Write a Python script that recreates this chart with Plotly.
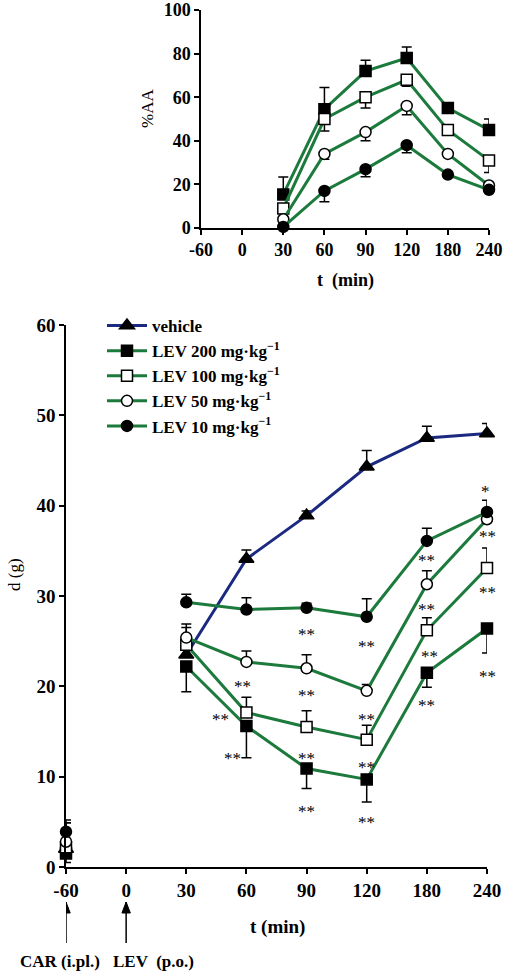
import plotly.graph_objects as go

# ---------------- data ----------------
times = ["-60", "0", "30", "60", "90", "120", "180", "240"]

# top panel: % anti-allodynic activity (%AA)
aa_lev200 = [None, None, 15.4, 54.5, 72.0, 78.0, 55.0, 45.0]
aa_lev200_err = [0, 0, 8.0, 10.0, 5.0, 5.0, 2.0, 5.0]          # upward
aa_lev100 = [None, None, 9.0, 50.0, 60.0, 68.0, 45.0, 31.0]
aa_lev100_err = [0, 0, 1.0, 5.5, 5.0, 3.0, 2.0, 5.5]           # downward
aa_lev50 = [None, None, 4.0, 34.0, 44.0, 56.0, 34.0, 19.5]
aa_lev50_err = [0, 0, 1.0, 2.5, 4.0, 4.0, 1.0, 1.0]            # downward
aa_lev10 = [None, None, 0.5, 17.0, 27.0, 38.0, 24.5, 17.5]
aa_lev10_err = [0, 0, 0.5, 5.0, 3.5, 3.5, 1.0, 1.0]            # downward

# bottom panel: paw withdrawal threshold d (g)
d_vehicle = [2.0, None, 23.5, 34.1, 38.9, 44.3, 47.5, 48.0]
d_vehicle_err = [1.0, 0, 0.6, 1.0, 0.5, 1.8, 1.3, 1.1]         # upward
d_lev200 = [1.5, None, 22.2, 15.6, 10.9, 9.7, 21.5, 26.4]
d_lev200_err = [1.0, 0, 2.8, 3.5, 2.2, 2.5, 1.6, 2.7]          # downward
d_lev100 = [2.2, None, 24.6, 17.1, 15.5, 14.1, 26.2, 33.1]
d_lev100_err = [2.7, 0, 2.3, 1.7, 1.8, 1.6, 1.4, 2.2]          # upward
d_lev50 = [2.8, None, 25.4, 22.7, 22.0, 19.5, 31.3, 38.5]
d_lev50_err = [2.1, 0, 1.1, 1.2, 1.5, 0.7, 1.5, 0.5]           # upward
d_lev10 = [3.9, None, 29.3, 28.5, 28.7, 27.7, 36.1, 39.3]
d_lev10_err = [1.3, 0, 0.9, 1.3, 0.5, 2.0, 1.4, 1.3]           # upward

legend_names = ["vehicle", "LEV 200 mg·kg<sup>−1</sup>", "LEV 100 mg·kg<sup>−1</sup>",
                "LEV 50 mg·kg<sup>−1</sup>", "LEV 10 mg·kg<sup>−1</sup>"]

# significance marks: (x position as category index, y value, label)
sig_marks = [
    (4.0, 26.2, "**"), (5.0, 24.8, "**"), (6.0, 34.4, "**"), (6.97, 42.0, "*"),
    (2.93, 20.4, "**"), (4.0, 19.4, "**"), (5.0, 16.8, "**"), (6.0, 28.9, "**"), (7.0, 37.0, "**"),
    (2.57, 16.8, "**"), (4.0, 12.5, "**"), (5.0, 11.5, "**"), (6.05, 23.8, "**"), (7.0, 30.8, "**"),
    (2.77, 12.5, "**"), (4.0, 6.6, "**"), (5.0, 5.4, "**"), (6.0, 18.3, "**"), (7.0, 21.5, "**"),
]

# ---------------- styling ----------------
W, H = 505, 974
GREEN = "#1c7a3c"
NAVY = "#1b2a80"
FONT = "Liberation Serif"


def px_x(p):
    return p / W


def px_y(p):
    return 1 - p / H


def err(arr, up=True):
    zeros = [0] * len(arr)
    if up:
        return dict(type="data", symmetric=False, array=arr, arrayminus=zeros,
                    color="black", thickness=1.5, width=5)
    return dict(type="data", symmetric=False, array=zeros, arrayminus=arr,
                color="black", thickness=1.5, width=5)


def mk(symbol, filled):
    return dict(symbol=symbol, size=11 if symbol != "triangle-up" else 13,
                color="black" if filled else "white",
                line=dict(color="black", width=1.5))


fig = go.Figure()

# top panel traces
top = [
    (aa_lev200, aa_lev200_err, True, "square", True),
    (aa_lev100, aa_lev100_err, False, "square", False),
    (aa_lev50, aa_lev50_err, False, "circle", False),
    (aa_lev10, aa_lev10_err, False, "circle", True),
]
for y, e, up, sym, filled in top:
    fig.add_trace(go.Scatter(x=times, y=y, mode="lines+markers", xaxis="x", yaxis="y",
                             line=dict(color=GREEN, width=3), marker=mk(sym, filled),
                             error_y=err(e, up), showlegend=False, cliponaxis=False,
                             connectgaps=False))

# bottom panel traces
bottom = [
    (d_vehicle, d_vehicle_err, True, "triangle-up", True, NAVY),
    (d_lev200, d_lev200_err, False, "square", True, GREEN),
    (d_lev100, d_lev100_err, True, "square", False, GREEN),
    (d_lev50, d_lev50_err, True, "circle", False, GREEN),
    (d_lev10, d_lev10_err, True, "circle", True, GREEN),
]
for (y, e, up, sym, filled, col), name in zip(bottom, legend_names):
    fig.add_trace(go.Scatter(x=times, y=y, mode="lines+markers", xaxis="x2", yaxis="y2",
                             name=name, line=dict(color=col, width=3),
                             marker=mk(sym, filled), error_y=err(e, up),
                             cliponaxis=False, connectgaps=False))


def axis_style(size):
    return dict(showline=True, linecolor="black", linewidth=1.5, ticks="outside",
                ticklen=5, tickwidth=1.5, tickcolor="black", showgrid=False,
                zeroline=False, automargin=False, ticklabeloverflow="allow",
                tickfont=dict(family=FONT, size=size, color="black", weight="bold"))


fig.update_layout(
    template="none",
    width=W, height=H, margin=dict(l=0, r=0, t=0, b=0, pad=0),
    paper_bgcolor="white", plot_bgcolor="white",
    xaxis=dict(domain=[px_x(201), px_x(489)], anchor="y", type="category",
               range=[0, 7], categoryorder="array", categoryarray=times, **axis_style(18)),
    yaxis=dict(domain=[px_y(228), px_y(10)], anchor="x", range=[0, 100], dtick=20,
               **axis_style(18)),
    xaxis2=dict(domain=[px_x(66), px_x(487)], anchor="y2", type="category",
                range=[0, 7], categoryorder="array", categoryarray=times, **axis_style(19)),
    yaxis2=dict(domain=[px_y(867), px_y(325)], anchor="x2", range=[0, 60], dtick=10,
                **axis_style(19)),
    legend=dict(x=px_x(102), y=px_y(308), xanchor="left", yanchor="top",
                bgcolor="rgba(0,0,0,0)", tracegroupgap=0, itemwidth=40,
                font=dict(family=FONT, size=17, color="black", weight="bold")),
    showlegend=True,
)


def label(text, x, y, size, bold=True, angle=0):
    font = dict(family=FONT, size=size, color="black")
    if bold:
        font["weight"] = "bold"
    return dict(text=text, x=px_x(x), y=px_y(y), xref="paper", yref="paper",
                xanchor="center", yanchor="middle", showarrow=False,
                textangle=angle, font=font)


ann = [
    label("t  (min)", 345, 280, 18),
    label("t (min)", 277, 927, 19),
    label("%AA", 148, 109, 17, bold=False, angle=-90),
    label("d (g)", 14, 575, 17, bold=False, angle=-90),
    label("CAR (i.pl.)", 60, 961, 17),
    label("LEV  (p.o.)", 153, 961, 17),
]
# significance marks
for x, y, t in sig_marks:
    ann.append(dict(text=t, x=x, y=y, xref="x2", yref="y2", showarrow=False, yshift=-4,
                    xanchor="center", yanchor="middle",
                    font=dict(family=FONT, size=17, color="black")))

# administration arrows (vertical, pointing up to the -60 and 0 ticks)
shapes = []
head_dx = 0.07  # half width of arrow head in category units
for idx in (0, 1):
    shapes.append(dict(type="line", xref="x2", yref="paper", x0=idx, x1=idx,
                       y0=px_y(943), y1=px_y(902), line=dict(color="black", width=1.5)))
    shapes.append(dict(type="path", xref="x2", yref="paper",
                       path=f"M {idx - head_dx},{px_y(913)} L {idx},{px_y(902)} L {idx + head_dx},{px_y(913)} Z",
                       fillcolor="black", line=dict(color="black", width=1)))

fig.update_layout(annotations=ann, shapes=shapes)

fig.write_html(
    "out.html",
    config={"displayModeBar": False},
    post_script="document.body.style.margin='0';document.body.style.padding='0';"
                "document.body.style.overflow='hidden';",
)
